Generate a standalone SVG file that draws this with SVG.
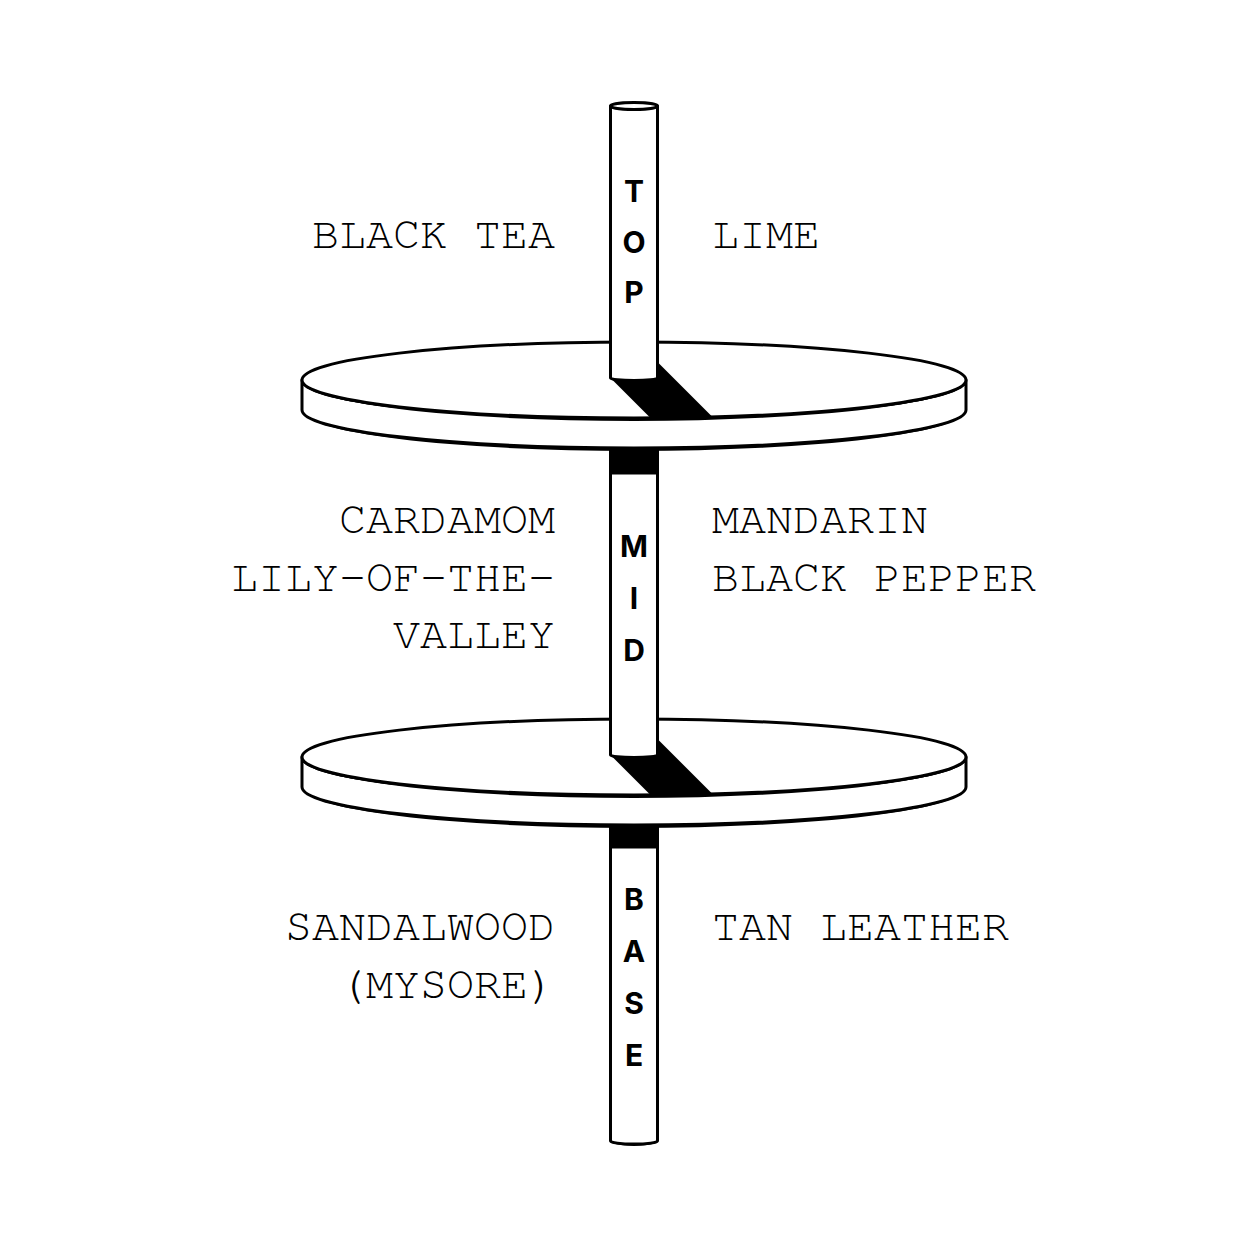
<svg xmlns="http://www.w3.org/2000/svg" width="1251" height="1251" viewBox="0 0 1251 1251">
<style>
.ln{fill:#fff;stroke:#000;stroke-width:3;stroke-linejoin:round}
.blk{fill:#000;stroke:none}
.note{font-family:"Nimbus Mono PS","FreeMono","Courier New","Courier","Liberation Mono",monospace;font-size:45px;fill:#000}
.tier{font-family:"Inter","Lato","Noto Sans",sans-serif;font-weight:700;font-size:30px;fill:#000;text-anchor:middle}
.l{text-anchor:end}
</style>
<rect width="1251" height="1251" fill="#fff"/>
<g id="rod-bands">
<rect class="blk" x="609" y="430" width="50" height="44"/>
<rect class="blk" x="609" y="808" width="50" height="40"/>
</g>
<g id="disk-top">
<path class="ln" d="M302 380 L302 410 A332 38 0 0 0 966 410 L966 380 A332 38 0 0 1 302 380 Z"/>
<ellipse class="ln" cx="634" cy="380" rx="332" ry="38"/>
<path class="blk" d="M610.5 378 L650.5 418 L713.5 418 L657.5 362 Z"/>
<path class="blk" d="M302 380 A332 38 0 0 0 966 380 A332 41 0 0 1 302 380 Z"/>
<path class="blk" d="M302 410 A332 38 0 0 0 966 410 A332 41 0 0 1 302 410 Z"/>
</g>
<g id="rod-top">
<path class="ln" d="M610.5 106 L610.5 378 A23.5 2.5 0 0 0 657.5 378 L657.5 106 Z"/>
<ellipse class="ln" cx="634" cy="106" rx="23.5" ry="3.5"/>
</g>
<g id="disk-mid">
<path class="ln" d="M302 757 L302 787 A332 38 0 0 0 966 787 L966 757 A332 38 0 0 1 302 757 Z"/>
<ellipse class="ln" cx="634" cy="757" rx="332" ry="38"/>
<path class="blk" d="M610.5 755 L650.5 795 L713.5 795 L657.5 739 Z"/>
<path class="blk" d="M302 757 A332 38 0 0 0 966 757 A332 41 0 0 1 302 757 Z"/>
<path class="blk" d="M302 787 A332 38 0 0 0 966 787 A332 41 0 0 1 302 787 Z"/>
</g>
<g id="rod-mid">
<path class="ln" d="M610.5 473 L610.5 755 A23.5 2.5 0 0 0 657.5 755 L657.5 473 Z"/>
</g>
<g id="rod-base">
<path class="ln" d="M610.5 847 L610.5 1141 A23.5 3 0 0 0 657.5 1141 L657.5 847 Z"/>
<path class="blk" d="M610.5 1141 A23.5 3 0 0 0 657.5 1141 A23.5 5 0 0 1 610.5 1141 Z"/>
</g>
<g id="tier-labels">
<text class="tier" x="634" y="202">T</text>
<text class="tier" x="634" y="253">O</text>
<text class="tier" x="634" y="303">P</text>
<text class="tier" x="634" y="557">M</text>
<text class="tier" x="634" y="609">I</text>
<text class="tier" x="634" y="661">D</text>
<text class="tier" x="634" y="910">B</text>
<text class="tier" x="634" y="962">A</text>
<text class="tier" x="634" y="1014">S</text>
<text class="tier" x="634" y="1066">E</text>
</g>
<g id="notes-top">
<text class="note l" x="555" y="248">BLACK TEA</text>
<text class="note" x="712" y="248">LIME</text>
</g>
<g id="notes-mid">
<text class="note l" x="555" y="533">CARDAMOM</text>
<text class="note l" x="555" y="591">LILY-OF-THE-</text>
<text class="note l" x="555" y="648">VALLEY</text>
<text class="note" x="712" y="533">MANDARIN</text>
<text class="note" x="712" y="591">BLACK PEPPER</text>
</g>
<g id="notes-base">
<text class="note l" x="555" y="940">SANDALWOOD</text>
<text class="note l" x="555" y="998">(MYSORE)</text>
<text class="note" x="712" y="940">TAN LEATHER</text>
</g>
</svg>
